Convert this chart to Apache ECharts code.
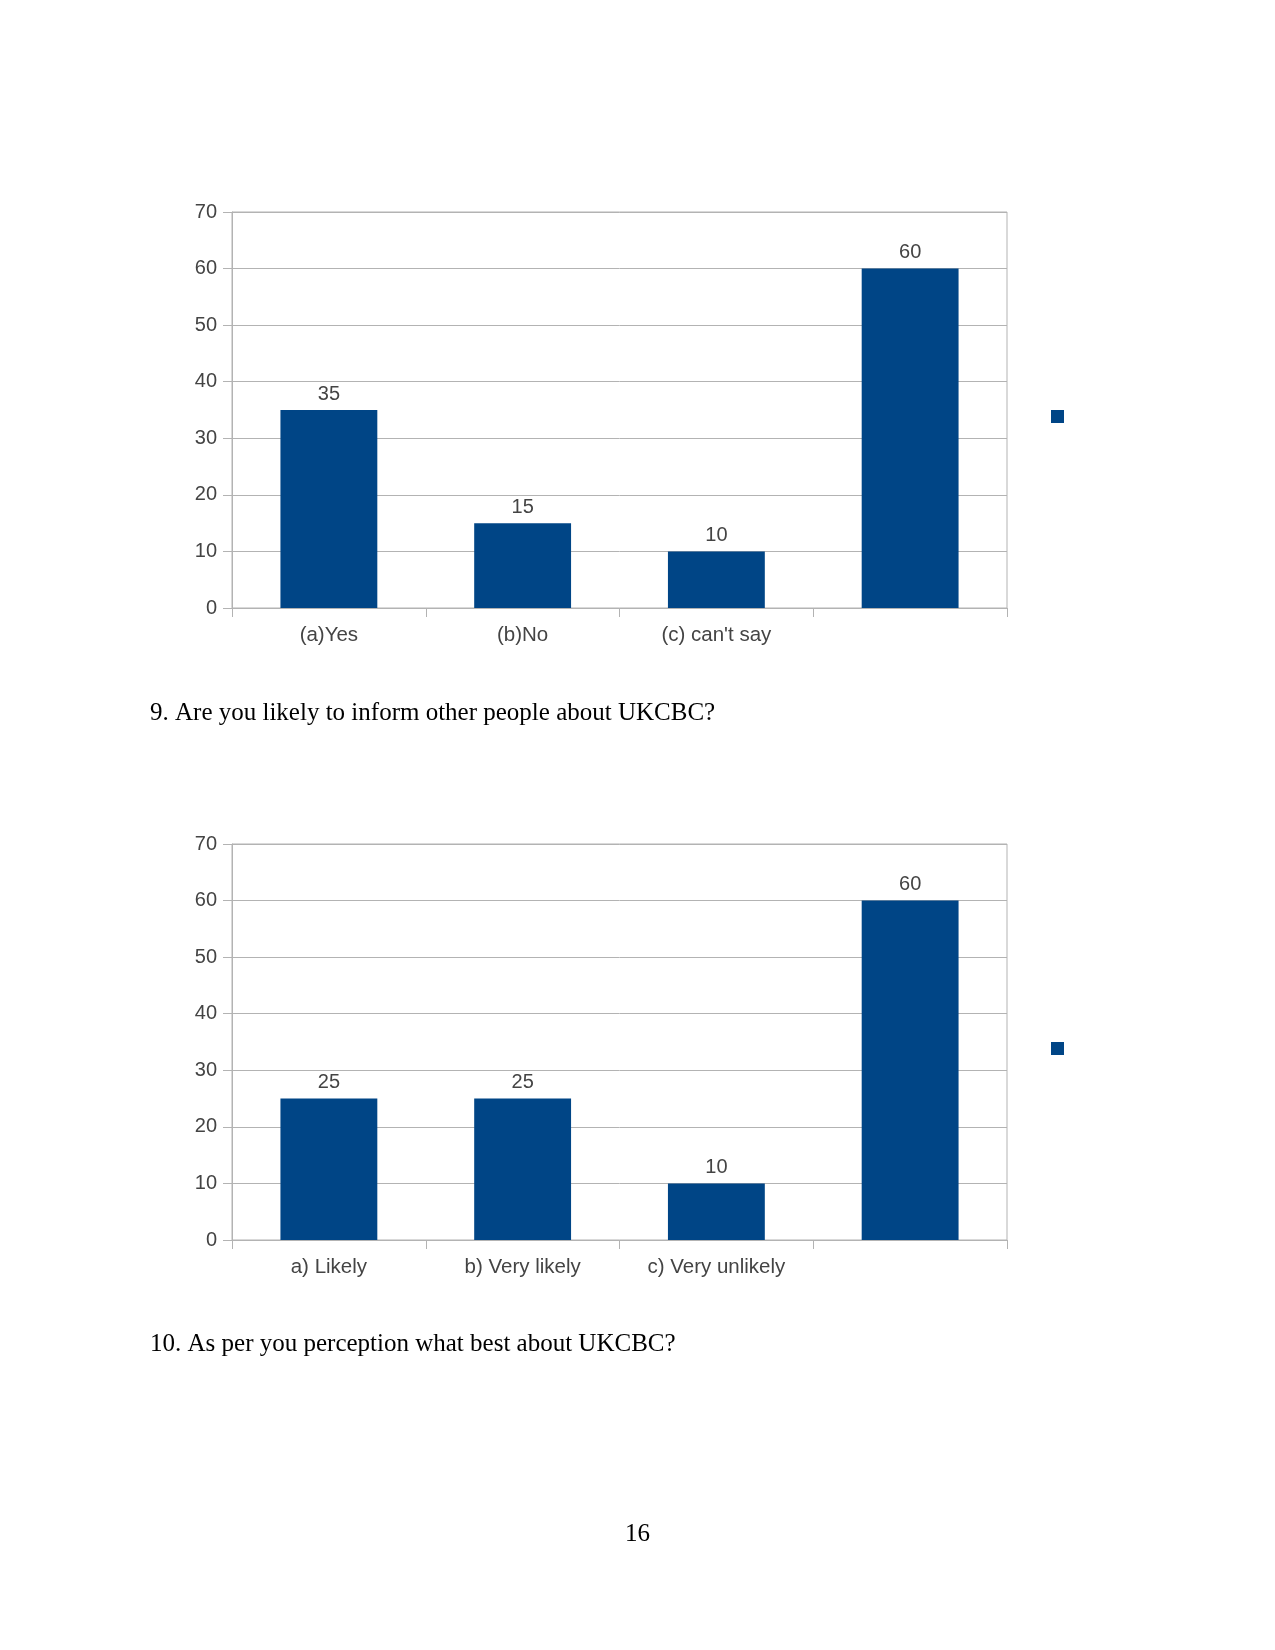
<!DOCTYPE html>
<html>
<head>
<meta charset="utf-8">
<script src="https://cdn.jsdelivr.net/npm/echarts@6/dist/echarts.min.js"></script>
<style>
html,body{margin:0;padding:0;background:#fff;}
#c{width:1275px;height:1650px;}
</style>
</head>
<body>
<div id="c"></div>
<script>
const categories1 = ['(a)Yes', '(b)No', "(c) can't say", ''];
const values1 = [35, 15, 10, 60];
const categories2 = ['a) Likely', 'b) Very likely', 'c) Very unlikely', ''];
const values2 = [25, 25, 10, 60];
const yTicks = { min: 0, max: 70, interval: 10 };
const question9 = '9. Are you likely to inform other people about UKCBC?';
const question10 = '10. As per you perception what best about UKCBC?';
const pageNumber = '16';

const chart = echarts.init(document.getElementById('c'), null, { renderer: 'canvas' });
const grey = '#b3b3b3';
const textCol = '#444444';
const barCol = '#004586';
const font = 'Liberation Sans';

function xAxis(idx, cats) {
  return {
    type: 'category', gridIndex: idx, data: cats,
    axisLine: { lineStyle: { color: grey } },
    axisTick: { show: true, length: 9, lineStyle: { color: grey } },
    axisLabel: { color: textCol, fontFamily: font, fontSize: 20.5, margin: 17 }
  };
}
function yAxis(idx) {
  return {
    type: 'value', gridIndex: idx, min: yTicks.min, max: yTicks.max, interval: yTicks.interval,
    axisLine: { show: true, lineStyle: { color: grey } },
    axisTick: { show: true, length: 9, lineStyle: { color: grey } },
    splitLine: { lineStyle: { color: grey } },
    axisLabel: { color: textCol, fontFamily: font, fontSize: 20, margin: 15, padding: [3, 0, 0, 0] }
  };
}
function series(idx, name, vals) {
  return {
    type: 'bar', name: name, xAxisIndex: idx, yAxisIndex: idx, data: vals,
    barWidth: '50%', itemStyle: { color: barCol }, silent: true,
    label: { show: true, position: 'top', distance: 6, color: textCol, fontFamily: font, fontSize: 20 }
  };
}

chart.setOption({
  animation: false,
  backgroundColor: '#fff',
  title: [
    { text: question9, left: 145, top: 696, textStyle: { fontFamily: 'Liberation Serif', fontSize: 25, fontWeight: 'normal', color: '#000' } },
    { text: question10, left: 145, top: 1327, textStyle: { fontFamily: 'Liberation Serif', fontSize: 25, fontWeight: 'normal', color: '#000' } },
    { text: pageNumber, left: 'center', top: 1517, textStyle: { fontFamily: 'Liberation Serif', fontSize: 25, fontWeight: 'normal', color: '#000' } }
  ],
  legend: [
    { data: [' '], left: 1046, top: 405, itemWidth: 13, itemHeight: 13, icon: 'rect', selectedMode: false, textStyle: { fontSize: 1 } },
    { data: ['  '], left: 1046, top: 1037, itemWidth: 13, itemHeight: 13, icon: 'rect', selectedMode: false, textStyle: { fontSize: 1 } }
  ],
  grid: [
    { left: 232, top: 212, width: 775, height: 396, show: true, borderColor: grey, borderWidth: 1 },
    { left: 232, top: 844, width: 775, height: 396, show: true, borderColor: grey, borderWidth: 1 }
  ],
  xAxis: [xAxis(0, categories1), xAxis(1, categories2)],
  yAxis: [yAxis(0), yAxis(1)],
  series: [series(0, ' ', values1), series(1, '  ', values2)]
});
</script>
</body>
</html>
